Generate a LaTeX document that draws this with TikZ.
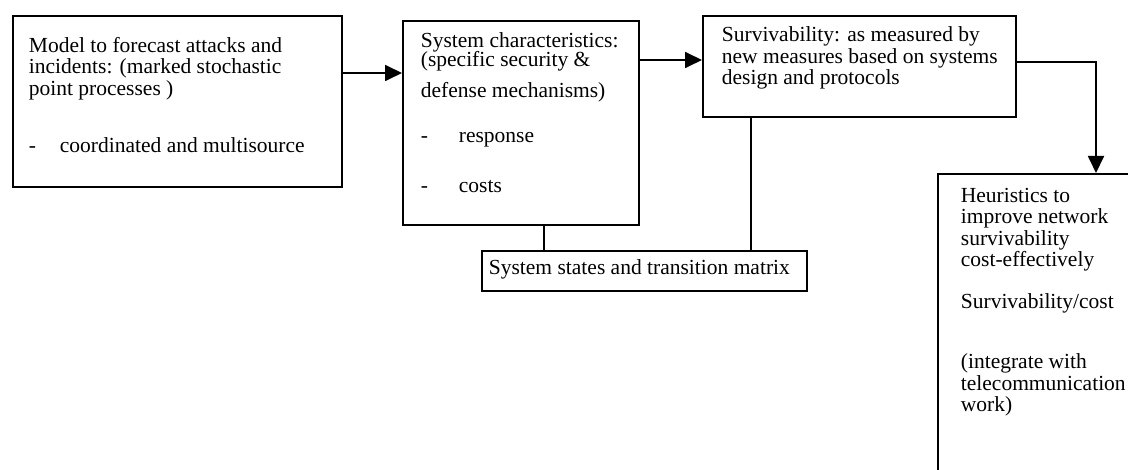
\documentclass[tikz,border=0pt]{standalone}
\usepackage{fontspec}
\setmainfont{Liberation Serif}
\usepackage{tikz}
\usetikzlibrary{arrows.meta}
\usetikzlibrary{calc}

\begin{document}
\begin{tikzpicture}[x=1pt,y=1pt,>={Triangle[length=17pt,width=16pt]},line width=1.8pt,font=\fontsize{21.5}{21.5}\selectfont]
			\tikzstyle{box}=[draw, rectangle, anchor=north west, inner sep=0pt]
			\tikzstyle{txt}=[anchor=north west, align=left, inner sep=0pt, execute at begin node=\strut]
			\useasboundingbox (0,0) rectangle (1128,-470);
			\clip (0,0) rectangle (1128,-470);
 					 \node[box, minimum width=329, minimum height=171] (model) at (12,-15) {};
 					 \node[box, minimum width=236, minimum height=204] (sys) at (402,-20) {};
 					 \node[box, minimum width=313, minimum height=101] (surv) at (702,-15) {};
 					 \node[box, minimum width=325, minimum height=40] (states) at (481,-250) {};
 					 \node[box, minimum width=260, minimum height=320] (heur) at (937,-173) {};

 					 \node[txt] (modeltxt) at (28,-36) {Model to forecast attacks and\\incidents: (marked stochastic\\point processes )\\[35.5pt]\makebox[31pt][l]{-}coordinated and multisource};
 					 \node[txt] (systxt) at (420,-32) {System characteristics:\\[-2.5pt](specific security \&\\[9.5pt]defense mechanisms)\\[23.5pt]\makebox[38pt][l]{-}response\\[28.5pt]\makebox[38pt][l]{-}costs};
 					 \node[txt] (survtxt) at (721,-26) {Survivability: as measured by\\new measures based on systems\\design and protocols};
 					 \node[txt] (statestxt) at (488,-259) {System states and transition matrix};
 					 \node[txt] (heurtxt) at (960,-187) {Heuristics to\\improve network\\survivability\\cost-effectively\\[20.5pt]Survivability/cost\\[38.5pt](integrate with\\telecommunication\\work)};

					 \path[->]
				([yshift=-58]model.north east) edge ([yshift=-53]sys.north west)
				([yshift=-40]sys.north east) edge ([yshift=-45]surv.north west)
				;
					 \draw[->] ([yshift=-47]surv.north east) -| ([xshift=159]heur.north west);
					 \path
				([xshift=142]sys.south west) edge ([xshift=142]sys.south west |- states.north)
				([xshift=49]surv.south west) edge ([xshift=49]surv.south west |- states.north)
				;
	\end{tikzpicture}
\end{document}
